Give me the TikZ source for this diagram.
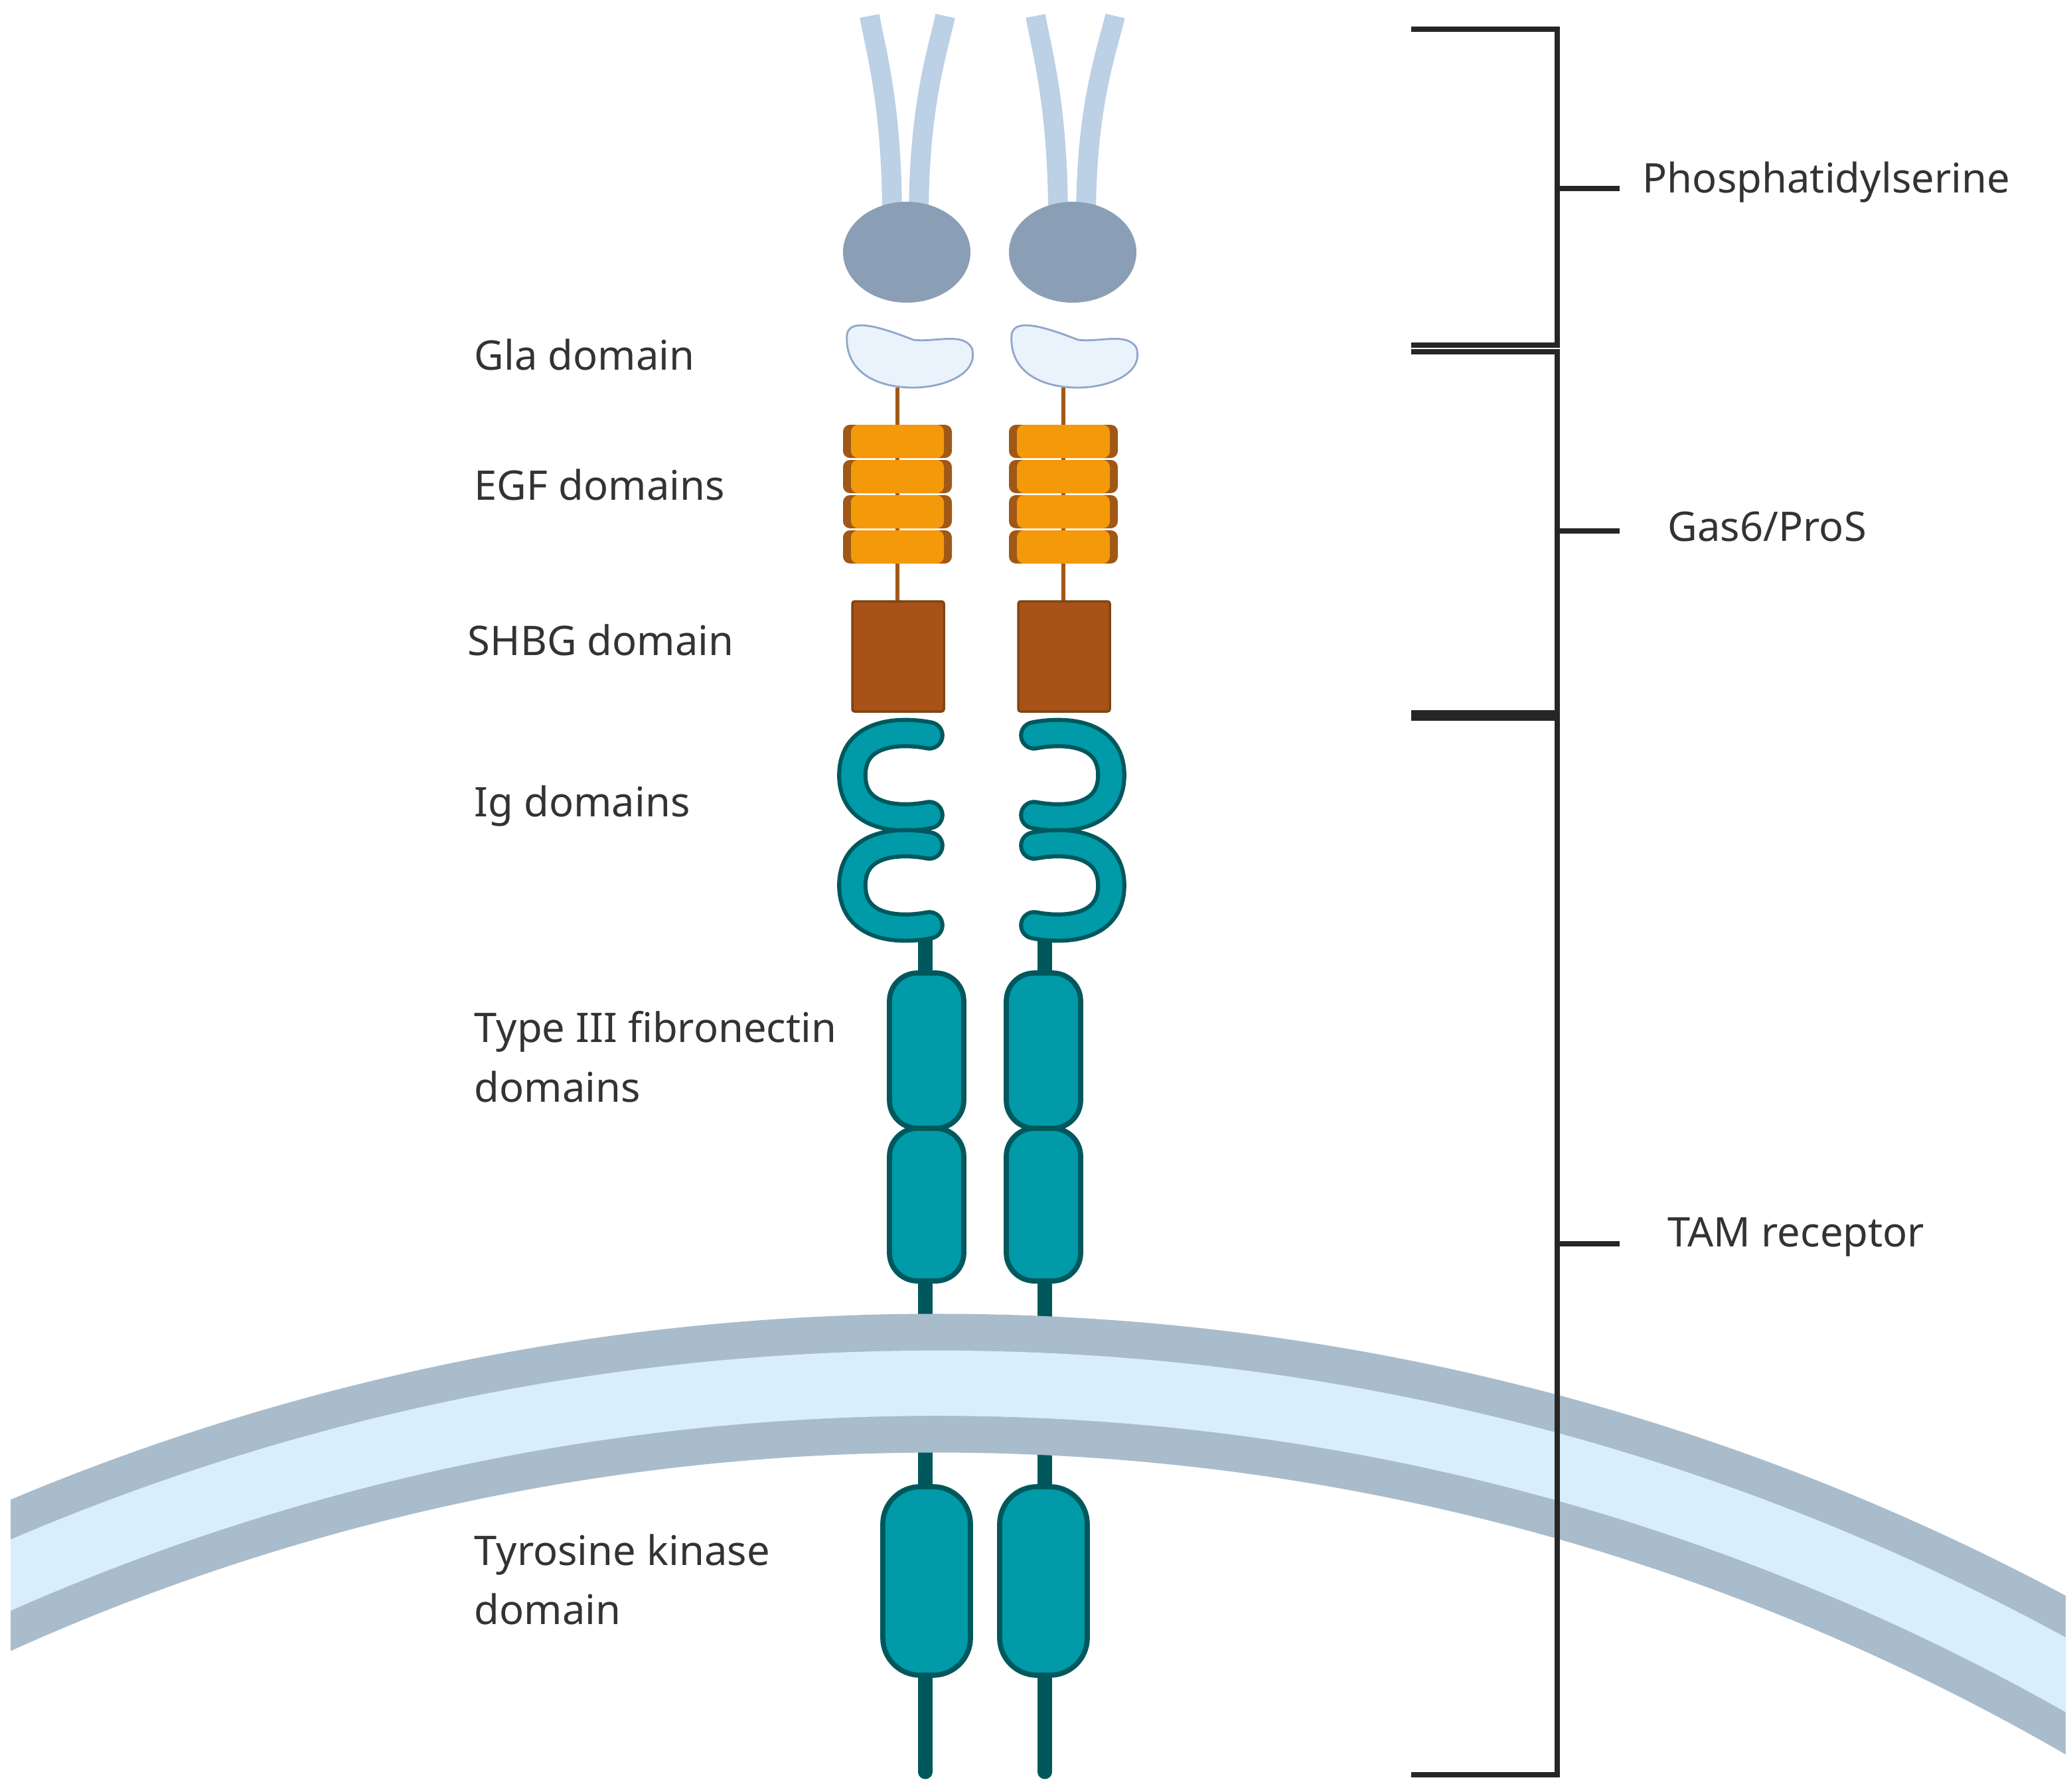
\documentclass[tikz,border=0pt]{standalone}
\usepackage{fontspec}
\setmainfont{Noto Sans}
\begin{document}
\begin{tikzpicture}[x=0.02cm,y=-0.02cm,
  lbl/.style={anchor=west,font=\fontsize{17.5}{25.5}\selectfont,text=black!80,align=left,inner sep=0pt},
  brk/.style={line width=2.3pt,black!85},
  teal/.style={fill={rgb,255:red,0;green,154;blue,168},draw={rgb,255:red,0;green,88;blue,92},line width=2.2pt}]
\definecolor{tdk}{RGB}{0,88,92}
\definecolor{tl}{RGB}{0,154,168}
\definecolor{mdark}{RGB}{169,188,203}
\definecolor{mlight}{RGB}{217,238,251}
\definecolor{orng}{RGB}{243,153,10}
\definecolor{ordk}{RGB}{160,88,22}
\definecolor{shbg}{RGB}{168,82,24}
\useasboundingbox (0,0) rectangle (1560,1350);
% lipid tails
\foreach \a/\b in {655/672,712/692,780/797,840/818}
  \draw[line width=8.5pt,color={rgb,255:red,188;green,208;blue,230}] (\a,12) .. controls (\a+0.3*\b-0.3*\a,40) and (\b,80) .. (\b,165);
% PS heads
\foreach \c in {683,808}
  \fill[color={rgb,255:red,138;green,159;blue,181}] (\c,190) ellipse [x radius=48,y radius=38];
% Gla
\foreach \c in {684,808}{
  \begin{scope}[shift={(\c-684,0)}]
  \draw[fill={rgb,255:red,234;green,242;blue,251},draw={rgb,255:red,143;green,166;blue,204},line width=0.8pt]
    (638,252) .. controls (640,240) and (660,245) .. (688,256) .. controls (705,258) and (725,250) .. (732,262)
    .. controls (738,282) and (710,292) .. (688,292) .. controls (660,292) and (636,280) .. cycle;
  \end{scope}}
% EGF + SHBG
\foreach \c in {676,801}{
  \draw[ordk,line width=1.6pt] (\c,292) -- (\c,455);
  \foreach \y in {320,346.5,373,399.5}{
    \fill[ordk,rounded corners=3] (\c-41,\y) rectangle (\c+41,\y+25);
    \fill[orng,rounded corners=3] (\c-35,\y) rectangle (\c+35,\y+25);}
  \draw[fill=shbg,draw=ordk!80!black,line width=1pt,rounded corners=1] (\c-34,453) rectangle (\c+35,536);
}
% stems TM
\foreach \c in {697,787}{
  \draw[tdk,line width=6pt] (\c,700) -- (\c,1120);
  \draw[tdk,line width=6pt,line cap=round] (\c,1250) -- (\c,1335);
}
% Ig domains
\foreach \s/\c in {1/700,-1/779}{
 \foreach \y in {584,667}{
  \draw[tdk,line width=13pt,line cap=round] (\c,\y-30) .. controls (\c-\s*20,\y-34) and (\c-\s*58,\y-34) .. (\c-\s*58,\y) .. controls (\c-\s*58,\y+34) and (\c-\s*20,\y+34) .. (\c,\y+30);
  \draw[tl,line width=9.5pt,line cap=round] (\c,\y-30) .. controls (\c-\s*20,\y-34) and (\c-\s*58,\y-34) .. (\c-\s*58,\y) .. controls (\c-\s*58,\y+34) and (\c-\s*20,\y+34) .. (\c,\y+30);
 }}
% FN
\foreach \c in {698,786}{
  \draw[teal,rounded corners=12pt] (\c-28,733) rectangle (\c+28,850);
  \draw[teal,rounded corners=12pt] (\c-28,850) rectangle (\c+28,965);
}
% membrane
\begin{scope}
\clip (8,0) rectangle (1556,1350);
\draw[mdark,line width=59.5pt] (706,2794) circle [radius=1752];
\draw[mlight,line width=28pt] (706,2794) circle [radius=1752];
\end{scope}
% TK
\foreach \c in {698,786}
  \draw[teal,rounded corners=16pt] (\c-33,1120) rectangle (\c+33,1262);
% brackets
\draw[brk] (1063,22) -- (1173,22) -- (1173,260) -- (1063,260);
\draw[brk] (1063,265) -- (1173,265) -- (1173,537) -- (1063,537);
\draw[brk] (1063,541) -- (1173,541) -- (1173,1337) -- (1063,1337);
\draw[brk] (1173,142) -- (1220,142);
\draw[brk] (1173,400) -- (1220,400);
\draw[brk] (1173,937) -- (1220,937);
% labels
\node[lbl] (ps) at (1237,137) {Phosphatidylserine};
\node[lbl] (gas) at (1256,397) {Gas6/ProS};
\node[lbl] (tam) at (1256,932) {TAM receptor};
\node[lbl] (gla) at (357,267) {Gla domain};
\node[lbl] (egf) at (357,365) {EGF domains};
\node[lbl] (sh) at (352,482) {SHBG domain};
\node[lbl] (ig) at (357,607) {Ig domains};
\node[lbl] (fn) at (357,796) {Type III fibronectin\\domains};
\node[lbl] (tk) at (357,1190) {Tyrosine kinase\\domain};
\end{tikzpicture}
\end{document}
